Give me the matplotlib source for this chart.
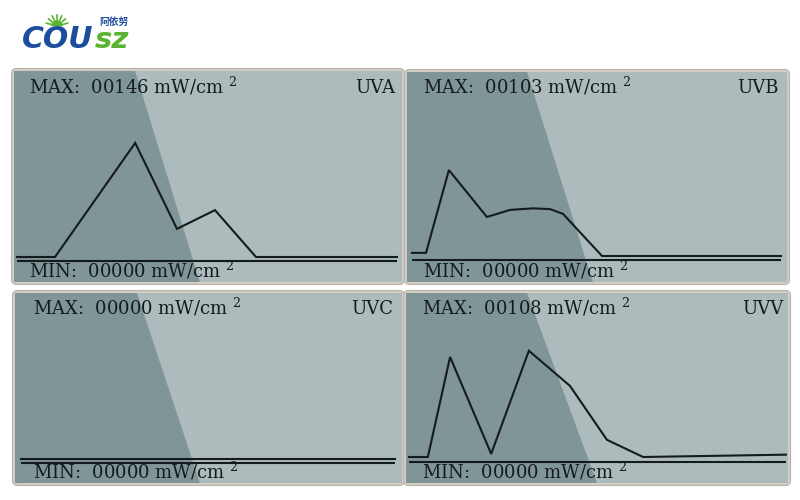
import matplotlib
matplotlib.use('Agg')
import matplotlib.pyplot as plt
from matplotlib.patches import Polygon, FancyBboxPatch, Wedge
from matplotlib.transforms import IdentityTransform
from matplotlib.lines import Line2D
import numpy as np

# ---------------- data ----------------
channels = ['UVA', 'UVB', 'UVC', 'UVV']
max_readings = ['00146', '00103', '00000', '00108']
min_readings = ['00000', '00000', '00000', '00000']
unit_text = 'mW/cm'

uva_x = [0, 10, 31.1, 42.1, 52.1, 62.9, 100]
uva_y = [0, 0, 146, 36, 60, 0, 0]
uvb_x = [0, 3.8, 10.0, 20.3, 26.6, 32.8, 37.4, 40.9, 51.5, 100]
uvb_y = [4, 4, 110, 50, 59, 61, 60, 54, 0, 0]
uvc_x = [0, 100]
uvc_y = [0, 0]
uvv_x = [0, 5.0, 10.9, 21.8, 31.8, 42.7, 52.5, 62.1, 100]
uvv_y = [0, 0, 128, 4, 136, 91, 22, 0, 3]

series_x = [uva_x, uvb_x, uvc_x, uvv_x]
series_y = [uva_y, uvb_y, uvc_y, uvv_y]

# ---------------- layout (pixels) ----------------
W, H = 800, 500
K = 1.28  # value units per pixel
panels = [
    dict(x0=14, x1=402, y0=71, y1=282, base=257, axis=261, s=17, e=397,
         tfrac=0.312, bfrac=0.479, max_y=87, min_y=271, lab_x=395, txt_x=29),
    dict(x0=407, x1=787, y0=72, y1=282, base=256, axis=260, s=412, e=781,
         tfrac=0.316, bfrac=0.489, max_y=87, min_y=271, lab_x=779, txt_x=423),
    dict(x0=15, x1=402, y0=293, y1=483, base=459, axis=463, s=21, e=395,
         tfrac=0.315, bfrac=0.478, max_y=308, min_y=472, lab_x=393, txt_x=33),
    dict(x0=406, x1=788, y0=293, y1=483, base=457, axis=462, s=409, e=786,
         tfrac=0.317, bfrac=0.500, max_y=308, min_y=472, lab_x=783, txt_x=422),
]

LIGHT = '#adbbbc'
DARK = '#809598'
INK = '#141b1c'
FRAME = '#d2cec3'

plt.rcParams['mathtext.fontset'] = 'dejavuserif'
fig = plt.figure(figsize=(8, 5), dpi=100)
fig.patch.set_facecolor('white')

serif = 'DejaVu Serif'
FS = 13

for i, p in enumerate(panels):
    # frame
    fr = FancyBboxPatch((p['x0'] - 2.5, H - p['y1'] - 2.5),
                        p['x1'] - p['x0'] + 5, p['y1'] - p['y0'] + 5,
                        boxstyle='round,pad=0,rounding_size=5',
                        facecolor=FRAME, edgecolor='#b8b4a9', lw=0.8,
                        transform=IdentityTransform(), zorder=-5)
    fig.patches.append(fr)

    ax = fig.add_axes([p['x0'] / W, 1 - p['y1'] / H,
                       (p['x1'] - p['x0']) / W, (p['y1'] - p['y0']) / H])
    ax.set_facecolor(LIGHT)
    for sp in ax.spines.values():
        sp.set_visible(False)
    ax.set_xticks([])
    ax.set_yticks([])

    span = p['e'] - p['s']
    ax.set_xlim(-(p['s'] - p['x0']) / span * 100,
                100 + (p['x1'] - p['e']) / span * 100)
    ax.set_ylim(-(p['y1'] - p['base']) * K, (p['base'] - p['y0']) * K)

    ax.add_patch(Polygon([(0, 0), (0, 1), (p['tfrac'], 1), (p['bfrac'], 0)],
                         closed=True, transform=ax.transAxes,
                         facecolor=DARK, edgecolor='none', zorder=0.5))

    ax.plot(series_x[i], series_y[i], color=INK, lw=1.5, zorder=3,
            solid_joinstyle='miter')
    ax.hlines(-(p['axis'] - p['base']) * K, 0, 100, color=INK, lw=1.5, zorder=3)

    # texts
    fig.text(p['txt_x'] / W, 1 - (p['max_y'] + 6) / H,
             'MAX:  ' + max_readings[i] + ' ' + unit_text + r' $^{2}$',
             family=serif, fontsize=FS, color=INK, va='baseline', ha='left')
    fig.text(p['txt_x'] / W, 1 - (p['min_y'] + 6) / H,
             'MIN:  ' + min_readings[i] + ' ' + unit_text + r' $^{2}$',
             family=serif, fontsize=FS, color=INK, va='baseline', ha='left')
    fig.text(p['lab_x'] / W, 1 - (p['max_y'] + 6) / H, channels[i],
             family=serif, fontsize=FS, color=INK, va='baseline', ha='right')

# ---------------- logo ----------------
fig.text(22 / W, 1 - 48 / H, 'COU', fontsize=21.5, fontweight='bold',
         style='italic', color='#1d4e9e', va='baseline', ha='left',
         family='DejaVu Sans')
fig.text(95 / W, 1 - 48 / H, 'sz', fontsize=21, fontweight='bold',
         style='italic', color='#5bb431', va='baseline', ha='left',
         family='DejaVu Sans')
fig.text(99 / W, 1 - 24.5 / H, '阿依努', fontsize=7, fontweight='bold',
         color='#1d4e9e', va='baseline', ha='left',
         family=['Noto Sans CJK SC', 'DejaVu Sans'])
cx, cy = 57, H - 26
fig.patches.append(Wedge((cx, cy), 6, 0, 180, facecolor='#5bb431',
                         edgecolor='none', transform=IdentityTransform()))
for a in np.linspace(15, 165, 7):
    r = np.deg2rad(a)
    fig.lines.append(Line2D([cx + 7 * np.cos(r), cx + 11 * np.cos(r)],
                            [cy + 7 * np.sin(r), cy + 11 * np.sin(r)],
                            color='#5bb431', lw=1.2,
                            transform=IdentityTransform()))

fig.savefig('out.png', dpi=100, facecolor='white')
